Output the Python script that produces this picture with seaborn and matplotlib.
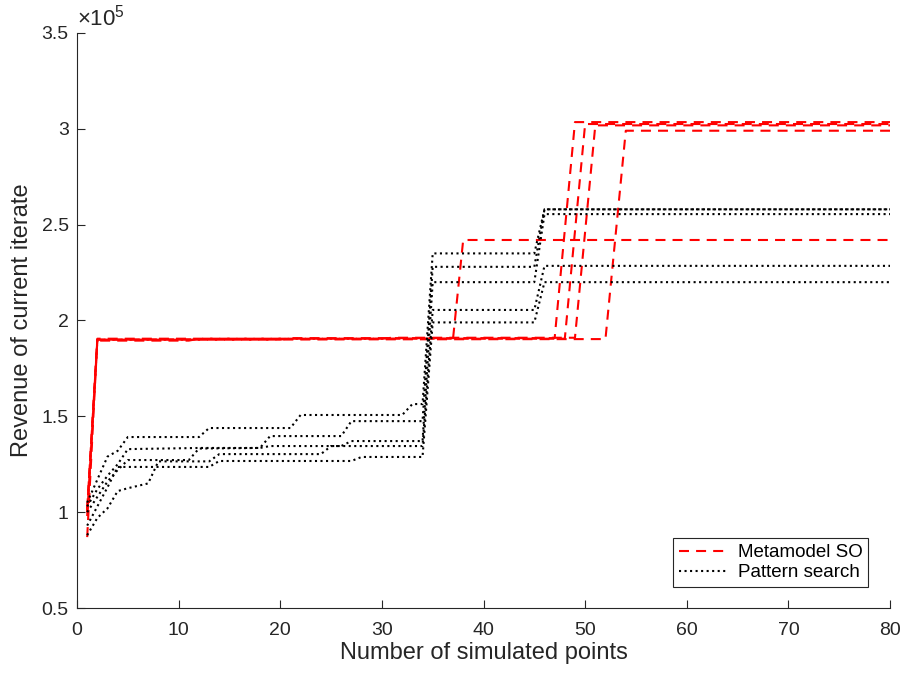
import matplotlib
matplotlib.use("Agg")
import matplotlib.pyplot as plt
import seaborn as sns
import pandas as pd
from matplotlib.ticker import FuncFormatter

# ---- data (revenue in units of 1e5), vertices ----
methods = ["Metamodel SO", "Pattern search"]

mm1_x = [1, 2, 37, 38, 80]
mm1_y = [1.00, 1.900, 1.905, 2.420, 2.420]
mm2_x = [1, 2, 20, 21, 47, 49, 80]
mm2_y = [0.87, 1.900, 1.900, 1.908, 1.908, 3.035, 3.035]
mm3_x = [1, 2, 11, 12, 48, 50, 80]
mm3_y = [1.02, 1.895, 1.895, 1.905, 1.905, 3.025, 3.025]
mm4_x = [1, 2, 30, 31, 49, 51, 80]
mm4_y = [0.98, 1.905, 1.905, 1.910, 1.910, 3.018, 3.018]
mm5_x = [1, 2, 52, 54, 80]
mm5_y = [1.00, 1.900, 1.903, 2.990, 2.990]

ps1_x = [1, 2, 3, 4, 5, 12, 13, 21, 22, 32, 33, 34, 35, 45, 46, 80]
ps1_y = [1.05, 1.17, 1.29, 1.32, 1.392, 1.392, 1.439, 1.439, 1.507, 1.507,
         1.564, 1.564, 2.350, 2.350, 2.580, 2.580]
ps2_x = [1, 2, 3, 4, 5, 12, 18, 19, 26, 27, 34, 35, 45, 46, 80]
ps2_y = [1.03, 1.12, 1.19, 1.25, 1.329, 1.335, 1.335, 1.397, 1.397, 1.475,
         1.475, 2.280, 2.280, 2.580, 2.580]
ps3_x = [1, 2, 3, 4, 5, 11, 12, 18, 19, 34, 35, 45, 46, 80]
ps3_y = [1.00, 1.08, 1.16, 1.22, 1.272, 1.272, 1.332, 1.335, 1.345, 1.345,
         2.055, 2.055, 2.285, 2.285]
ps4_x = [1, 2, 3, 4, 5, 7, 8, 13, 14, 24, 25, 26, 27, 34, 35, 45, 46, 80]
ps4_y = [0.88, 0.97, 1.02, 1.11, 1.125, 1.150, 1.265, 1.265, 1.303, 1.303,
         1.345, 1.345, 1.371, 1.371, 2.200, 2.200, 2.555, 2.555]
ps5_x = [1, 2, 3, 4, 13, 14, 27, 28, 34, 35, 45, 46, 80]
ps5_y = [0.93, 1.03, 1.13, 1.236, 1.236, 1.267, 1.267, 1.288, 1.288,
         1.990, 1.990, 2.200, 2.200]

x_ticks = [0, 10, 20, 30, 40, 50, 60, 70, 80]
y_ticks = [0.5, 1.0, 1.5, 2.0, 2.5, 3.0, 3.5]

runs = [
    ("Metamodel SO", "MM1", mm1_x, mm1_y),
    ("Metamodel SO", "MM2", mm2_x, mm2_y),
    ("Metamodel SO", "MM3", mm3_x, mm3_y),
    ("Metamodel SO", "MM4", mm4_x, mm4_y),
    ("Metamodel SO", "MM5", mm5_x, mm5_y),
    ("Pattern search", "PS1", ps1_x, ps1_y),
    ("Pattern search", "PS2", ps2_x, ps2_y),
    ("Pattern search", "PS3", ps3_x, ps3_y),
    ("Pattern search", "PS4", ps4_x, ps4_y),
    ("Pattern search", "PS5", ps5_x, ps5_y),
]
rows = []
for m, r, xs, ys in runs:
    for xv, yv in zip(xs, ys):
        rows.append({"method": m, "run": r, "x": xv, "y": yv})
df = pd.DataFrame(rows)

# ---- style ----
sns.set_theme(style="white")
plt.rcParams["font.family"] = ["Liberation Sans", "DejaVu Sans"]
plt.rcParams["mathtext.fontset"] = "custom"
plt.rcParams["mathtext.rm"] = "Liberation Sans"

fig = plt.figure(figsize=(9.03, 6.77), dpi=100)
ax = fig.add_axes([0.0853, 0.1019, 0.9003, 0.8494])

sns.lineplot(data=df, x="x", y="y", hue="method", style="method",
             units="run", estimator=None, sort=False,
             palette={"Metamodel SO": "#ff0000", "Pattern search": "#000000"},
             dashes={"Metamodel SO": (4.8, 3.4), "Pattern search": (1, 1.65)},
             linewidth=1.5, ax=ax, legend=True)

ax.set_xlim(0, 80)
ax.set_ylim(0.5, 3.5)
ax.set_xticks(x_ticks)
ax.set_yticks(y_ticks)
ax.yaxis.set_major_formatter(FuncFormatter(lambda v, p: f"{v:g}"))

gray = "#262626"
for s in ["top", "right"]:
    ax.spines[s].set_visible(False)
for s in ["left", "bottom"]:
    ax.spines[s].set_color(gray)
    ax.spines[s].set_linewidth(0.8)
ax.tick_params(axis="both", direction="in", length=6, width=0.8,
               colors=gray, labelsize=14, left=True, bottom=True)
ax.tick_params(axis="x", pad=10)
ax.tick_params(axis="y", pad=6)

ax.set_xlabel("Number of simulated points", fontsize=17, color=gray, labelpad=2)
ax.set_ylabel("Revenue of current iterate", fontsize=17, color=gray, labelpad=6)

ax.text(0.0, 1.004, r"$\times10^{5}$", transform=ax.transAxes,
        ha="left", va="bottom", fontsize=16, color=gray)

handles, labels = ax.get_legend_handles_labels()
leg = ax.legend(handles, labels, loc="lower right",
                bbox_to_anchor=(0.973, 0.037), borderaxespad=0,
                fontsize=13.5, frameon=True, fancybox=False,
                framealpha=1, edgecolor=gray, handlelength=2.6,
                handletextpad=0.55, labelspacing=0.15, borderpad=0.3)
leg.get_frame().set_linewidth(0.8)
for t in leg.get_texts():
    t.set_color("#000000")

fig.savefig("out.png", dpi=100)
